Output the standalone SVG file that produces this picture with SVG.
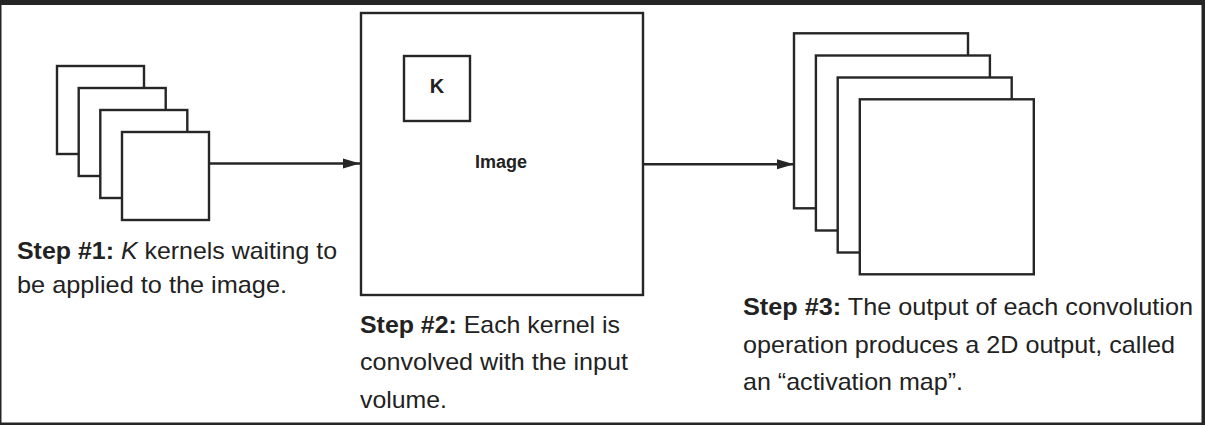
<svg xmlns="http://www.w3.org/2000/svg" width="1205" height="425" viewBox="0 0 1205 425">
  <style>
    .box { fill: #ffffff; stroke: #262626; stroke-width: 2.4; }
    .conn { stroke: #262626; stroke-width: 2.4; fill: none; }
    .cap { font-family: "Liberation Sans", Arial, sans-serif; font-size: 24px; fill: #222222; }
    .b { font-weight: bold; }
    .lbl { font-family: "Liberation Sans", Arial, sans-serif; font-weight: bold; fill: #222222; text-anchor: middle; }
  </style>
  <defs>
    <marker id="arr" markerWidth="18" markerHeight="12" refX="17" refY="6" orient="auto" markerUnits="userSpaceOnUse">
      <path d="M0,1 L17,6 L0,11 Z" fill="#262626"/>
    </marker>
  </defs>

  <rect x="0" y="0" width="1205" height="425" fill="#252525"/>
  <rect x="1.5" y="5" width="1200" height="417.5" fill="#ffffff"/>

  <g id="kernels">
    <rect class="box" x="57" y="66" width="87" height="88"/>
    <rect class="box" x="78.7" y="88" width="87" height="88"/>
    <rect class="box" x="100.3" y="110" width="87" height="88"/>
    <rect class="box" x="122" y="132" width="87" height="88"/>
  </g>

  <g id="image">
    <rect class="box" x="361" y="13" width="282" height="282"/>
    <rect class="box" x="404" y="56" width="66" height="65"/>
    <text class="lbl" x="437" y="93" font-size="20">K</text>
    <text class="lbl" x="501" y="168" font-size="18">Image</text>
  </g>

  <g id="outputs">
    <rect class="box" x="794" y="33.3" width="174" height="175"/>
    <rect class="box" x="815.9" y="55.5" width="174" height="175"/>
    <rect class="box" x="837.7" y="77.5" width="174" height="175"/>
    <rect class="box" x="859.8" y="99.3" width="174" height="175"/>
  </g>

  <g id="connectors">
    <line class="conn" x1="209" y1="163.5" x2="360" y2="163.5" marker-end="url(#arr)"/>
    <line class="conn" x1="643" y1="164.3" x2="794" y2="164.3" marker-end="url(#arr)"/>
  </g>

  <g id="step1">
    <text class="cap" x="17" y="259" textLength="320" lengthAdjust="spacingAndGlyphs"><tspan class="b">Step #1:</tspan> <tspan font-style="italic">K</tspan> kernels waiting to</text>
    <text class="cap" x="17" y="293" textLength="270" lengthAdjust="spacingAndGlyphs">be applied to the image.</text>
  </g>

  <g id="step2">
    <text class="cap" x="360" y="333" textLength="260" lengthAdjust="spacingAndGlyphs"><tspan class="b">Step #2:</tspan> Each kernel is</text>
    <text class="cap" x="360" y="370" textLength="268" lengthAdjust="spacingAndGlyphs">convolved with the input</text>
    <text class="cap" x="360" y="408" textLength="87" lengthAdjust="spacingAndGlyphs">volume.</text>
  </g>

  <g id="step3">
    <text class="cap" x="743" y="315" textLength="450" lengthAdjust="spacingAndGlyphs"><tspan class="b">Step #3:</tspan> The output of each convolution</text>
    <text class="cap" x="743" y="353" textLength="432" lengthAdjust="spacingAndGlyphs">operation produces a 2D output, called</text>
    <text class="cap" x="743" y="390" textLength="220" lengthAdjust="spacingAndGlyphs">an “activation map”.</text>
  </g>
</svg>
